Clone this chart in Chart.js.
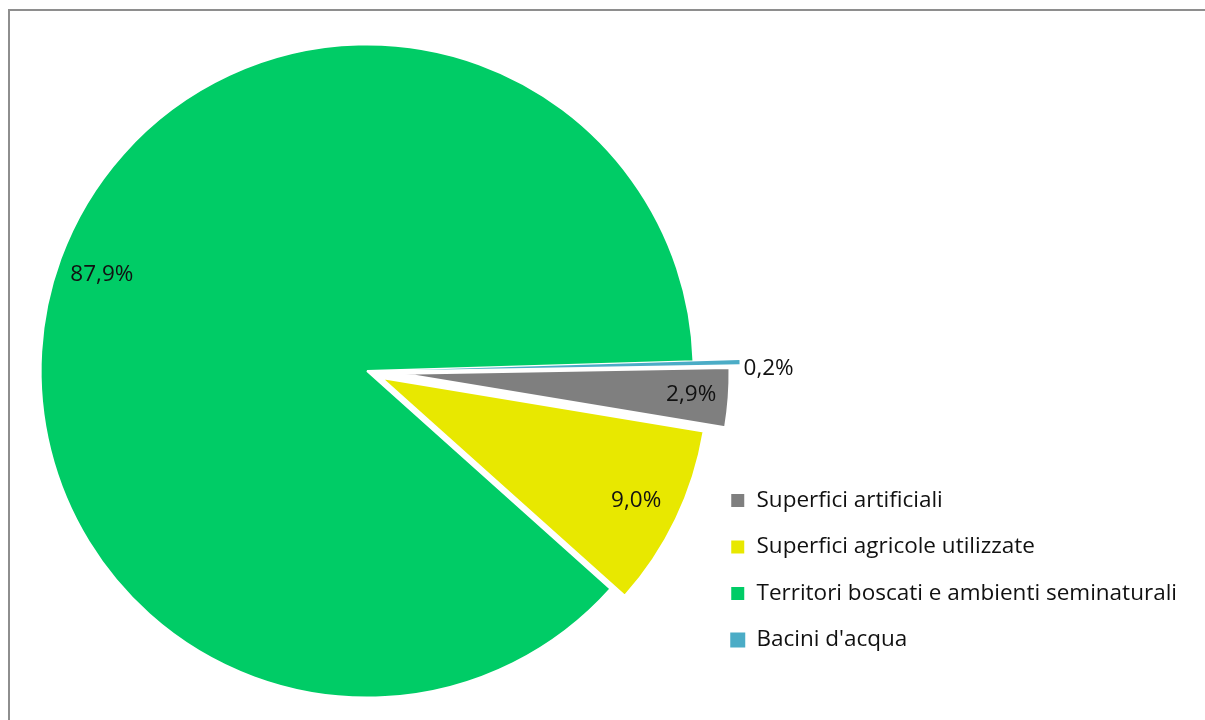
<!DOCTYPE html>
<html>
<head>
<meta charset="utf-8">
<script src="https://cdn.jsdelivr.net/npm/chart.js@4.4.1/dist/chart.umd.min.js"></script>
<style>
  html, body { margin: 0; padding: 0; background: #fff; overflow: hidden; }
  #wrap { position: relative; width: 1205px; height: 720px; }
  #frame { position: absolute; left: 8px; top: 9px; width: 1400px; height: 900px;
           border-top: 2px solid #8e8e8e; border-left: 2px solid #8e8e8e; pointer-events: none; }
</style>
</head>
<body>
<div id="wrap">
  <canvas id="pieChart" width="1205" height="720"></canvas>
  <div id="frame"></div>
</div>
<script>
const categories = ['Superfici artificiali', 'Superfici agricole utilizzate', 'Territori boscati e ambienti seminaturali', "Bacini d'acqua"];
const shares = [2.9, 9.0, 87.9, 0.2];
const colors = ['#7f7f7f', '#e8e800', '#00cc66', '#4bacc6'];
const explode = [36, 16, 0, 46];   // px the slice is pulled out
const pieRadius = 326.5;

// built-in offset narrows thin slices (the 0,2% one vanishes), so pull the
// slices out by moving each arc's own centre along its middle angle
const explodeSlices = {
  id: 'explodeSlices',
  beforeDatasetsDraw(chart) {
    const a = chart.chartArea;
    const cx = (a.left + a.right) / 2;
    const cy = (a.top + a.bottom) / 2;
    chart.getDatasetMeta(0).data.forEach((arc, i) => {
      const mid = (arc.startAngle + arc.endAngle) / 2;
      arc.x = cx + Math.cos(mid) * explode[i];
      arc.y = cy + Math.sin(mid) * explode[i];
    });
  }
};

// percentage labels, placed from the arc elements
const pieLabels = {
  id: 'pieLabels',
  afterDatasetsDraw(chart) {
    const ctx = chart.ctx;
    const meta = chart.getDatasetMeta(0);
    ctx.save();
    ctx.font = '22.5px "Open Sans"';
    ctx.fillStyle = '#111111';
    ctx.textBaseline = 'middle';
    meta.data.forEach((arc, i) => {
      const p = arc.getProps(['x', 'y', 'startAngle', 'endAngle'], true);
      const mid = (p.startAngle + p.endAngle) / 2;
      const txt = shares[i].toFixed(1).replace('.', ',') + '%';
      if (shares[i] < 1) {
        const r = pieRadius + 4;
        ctx.textAlign = 'left';
        ctx.fillText(txt, p.x + Math.cos(mid) * r, p.y + Math.sin(mid) * r + 7);
      } else {
        const r = pieRadius * (shares[i] < 5 ? 0.885 : 0.865);
        ctx.textAlign = 'center';
        ctx.fillText(txt, p.x + Math.cos(mid) * r, p.y + Math.sin(mid) * r);
      }
    });
    ctx.restore();
  }
};

new Chart(document.getElementById('pieChart'), {
  type: 'pie',
  data: {
    labels: categories,
    datasets: [{
      data: shares,
      backgroundColor: colors,
      borderColor: '#ffffff',
      borderWidth: [2, 2, 2, 0],
      hoverOffset: 0,
      radius: pieRadius
    }]
  },
  options: {
    responsive: false,
    animation: false,
    rotation: 89,
    layout: { padding: { left: 28, right: 18, top: 66.75, bottom: 44.75 } },
    plugins: {
      legend: {
        position: 'right',
        align: 'end',
        labels: {
          boxWidth: 15,
          boxHeight: 15,
          padding: 24,
          color: '#111111',
          font: { family: '"Open Sans"', size: 22.5 }
        }
      },
      tooltip: { enabled: false }
    }
  },
  plugins: [explodeSlices, pieLabels]
});
</script>
</body>
</html>
